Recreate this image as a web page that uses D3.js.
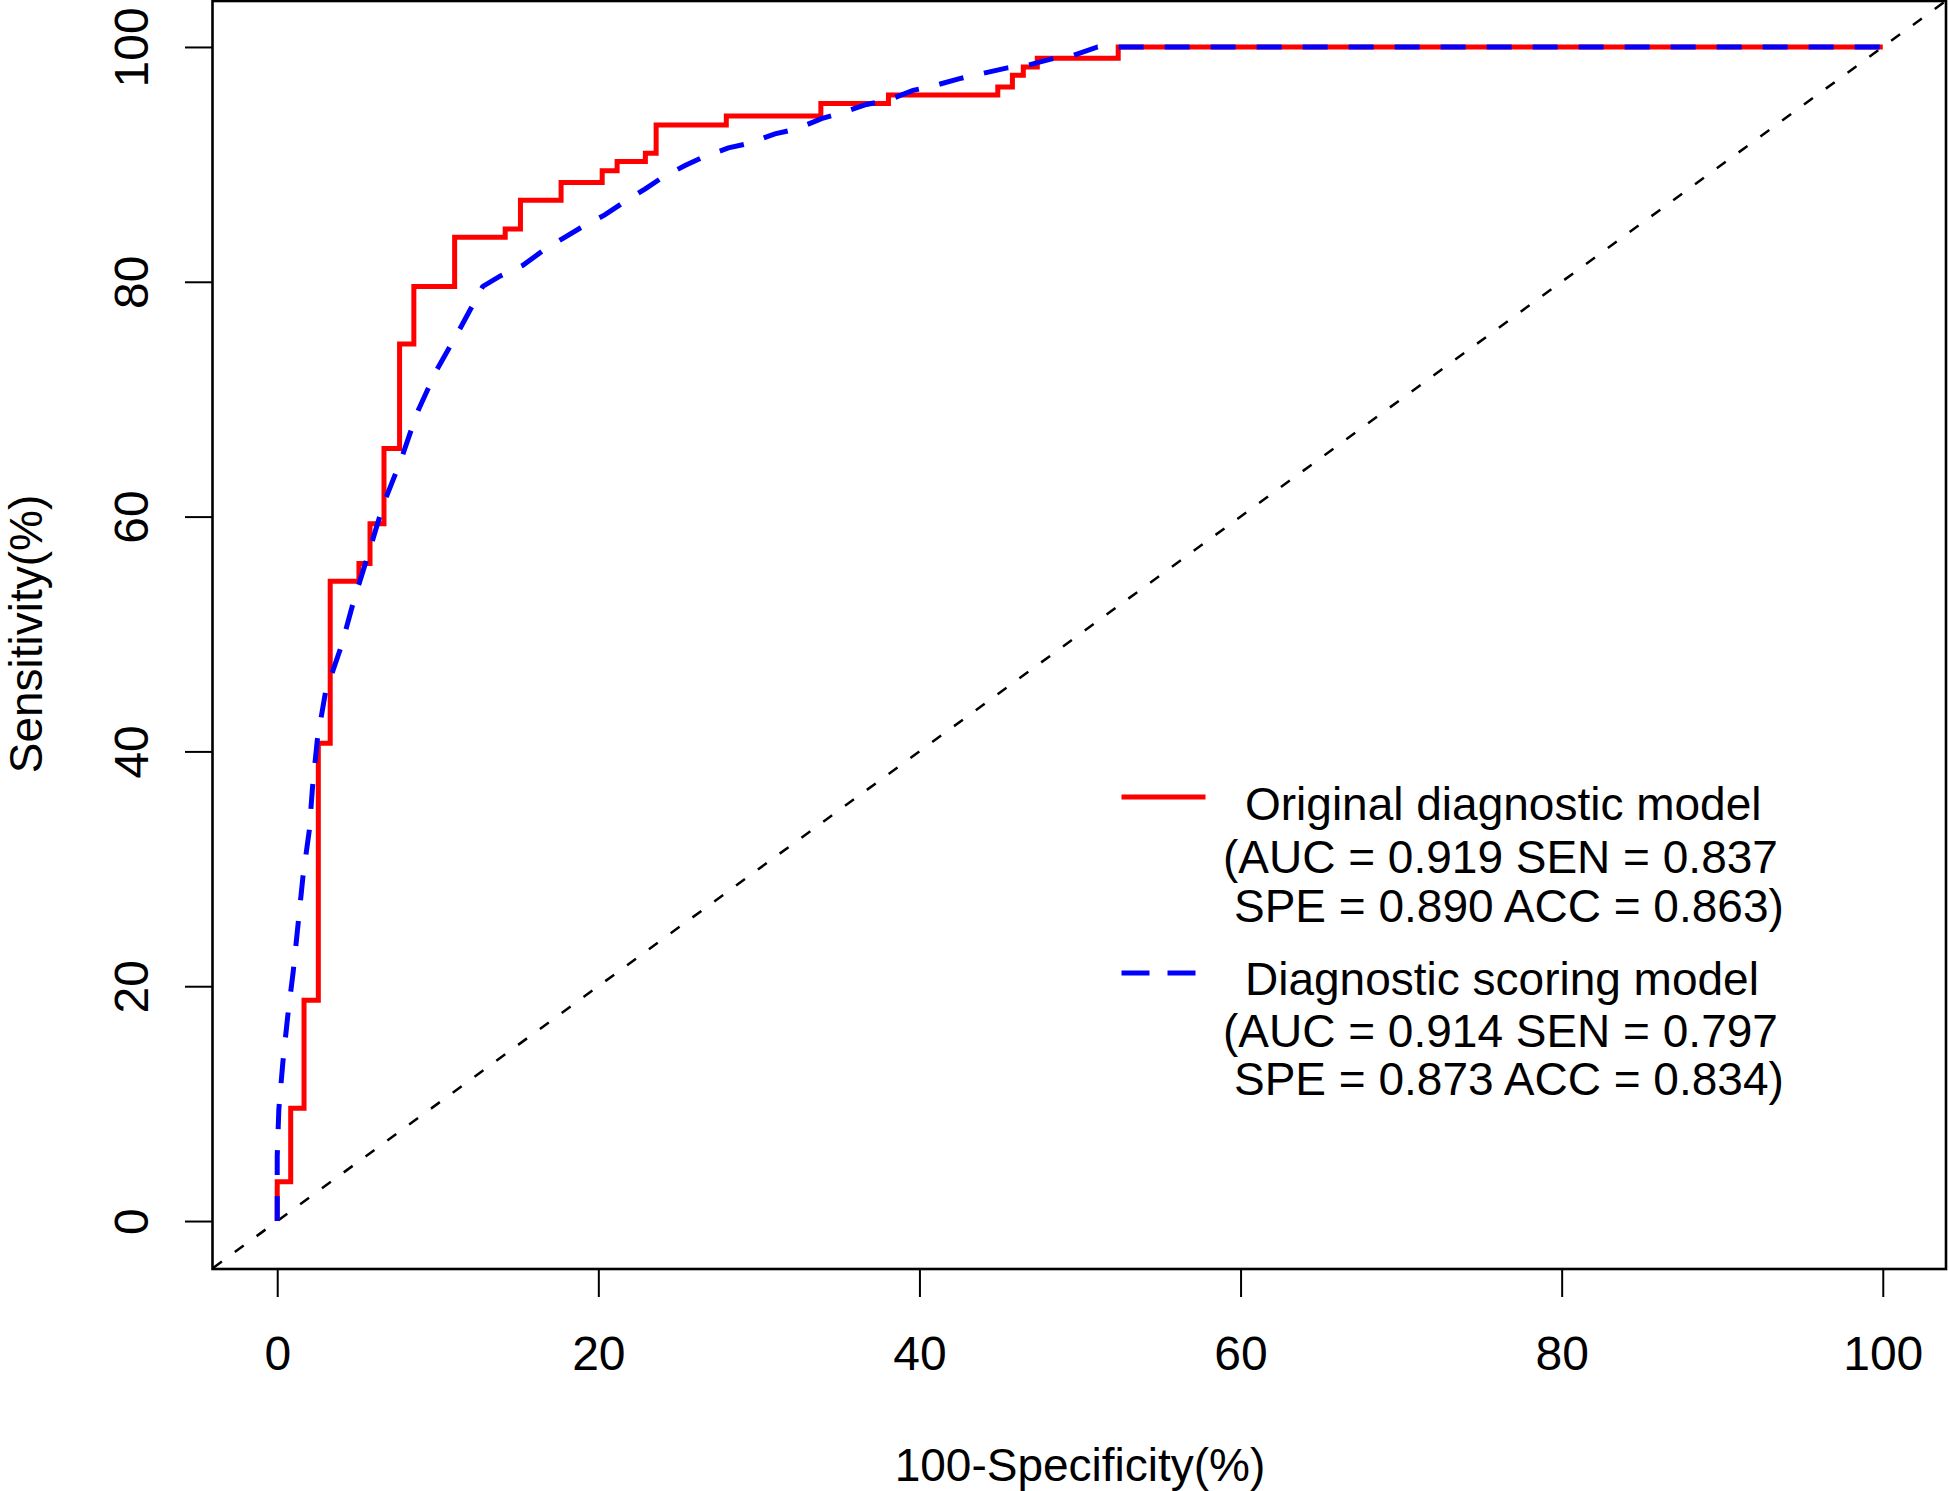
<!DOCTYPE html>
<html>
<head>
<meta charset="utf-8">
<script src="https://cdn.jsdelivr.net/npm/d3@7"></script>
<style>
  html, body { margin: 0; padding: 0; background: #fff; }
  svg { display: block; }
  text { font-family: "Liberation Sans", Arial, sans-serif; fill: #000; }
</style>
</head>
<body>
<svg id="chart" width="1949" height="1491"></svg>
<script>
// ---------- data ----------
const xTicks = [0, 20, 40, 60, 80, 100];
const yTicks = [0, 20, 40, 60, 80, 100];
const xTitle = "100-Specificity(%)";
const yTitle = "Sensitivity(%)";

// Original diagnostic model (step ROC corners: 100-specificity, sensitivity)
const origFpr = [0, 0.84, 1.67, 2.56, 3.3, 5.09, 5.78, 6.65, 7.62, 8.51, 11.05, 14.2, 15.15, 17.68, 20.24, 21.17, 22.93, 23.6, 27.97, 33.86, 38.07, 44.88, 45.79, 46.47, 47.34, 52.38, 100];
const origTpr = [0, 3.35, 9.6, 18.8, 40.7, 54.5, 56.0, 59.4, 65.8, 74.7, 79.6, 83.8, 84.5, 86.95, 88.45, 89.45, 90.24, 90.95, 93.36, 94.13, 95.18, 95.9, 96.6, 97.6, 98.3, 99.04, 100];

// Diagnostic scoring model
const scoreFpr = [0, 0, 0.1, 0.35, 0.65, 1.0, 1.3, 1.6, 2.0, 2.2, 2.5, 3.0, 4.0, 4.8, 5.7, 6.6, 7.7, 8.7, 9.9, 11.3, 12.8, 13.9, 15.3, 16.5, 17.8, 18.9, 20.4, 21.5, 22.9, 24.0, 25.4, 26.5, 28.1, 29.4, 31.0, 32.3, 33.9, 35.2, 36.7, 38.1, 39.6, 40.9, 42.5, 43.8, 45.4, 46.6, 48.3, 49.6, 51.1, 100];
const scoreTpr = [0, 5.5, 9.5, 13.5, 17.4, 21.3, 25.3, 29.3, 33.3, 37, 41, 45, 49, 53, 56.9, 61, 64.8, 68.8, 72.4, 75.8, 79.6, 80.5, 81.4, 82.6, 83.7, 84.6, 85.7, 86.7, 87.9, 88.9, 89.9, 90.6, 91.4, 91.8, 92.6, 93.0, 93.9, 94.4, 95.1, 95.5, 96.3, 96.7, 97.3, 97.7, 98.2, 98.4, 99.0, 99.3, 100, 100];

const legendOrig = ["Original diagnostic model", "(AUC = 0.919 SEN = 0.837", "SPE = 0.890 ACC = 0.863)"];
const legendScore = ["Diagnostic scoring model", "(AUC = 0.914 SEN = 0.797", "SPE = 0.873 ACC = 0.834)"];
const seriesColors = ["#ff0000", "#0000ff"];

// ---------- layout ----------
const svg = d3.select("#chart");
const x = d3.scaleLinear().domain([-4, 104]).range([213, 1947]);
const y = d3.scaleLinear().domain([-4, 104]).range([1268, 0]);

svg.append("defs").append("clipPath").attr("id", "plotclip")
  .append("rect").attr("x", 213).attr("y", 0).attr("width", 1734).attr("height", 1268);

const plot = svg.append("g").attr("clip-path", "url(#plotclip)");

// diagonal reference
plot.append("line")
  .attr("x1", x(-4)).attr("y1", y(-4)).attr("x2", x(104)).attr("y2", y(104))
  .attr("stroke", "#000").attr("stroke-width", 2.5)
  .attr("stroke-dasharray", "11,16");

const origData = origFpr.map((d, i) => [d, origTpr[i]]);
const scoreData = scoreFpr.map((d, i) => [d, scoreTpr[i]]);

const stepLine = d3.line().x(d => x(d[0])).y(d => y(d[1])).curve(d3.curveStepBefore);
const polyLine = d3.line().x(d => x(d[0])).y(d => y(d[1]));

plot.append("path").datum(origData)
  .attr("d", stepLine)
  .attr("fill", "none").attr("stroke", seriesColors[0]).attr("stroke-width", 5)
  .attr("stroke-linejoin", "miter");

plot.append("path").datum(scoreData)
  .attr("d", polyLine)
  .attr("fill", "none").attr("stroke", seriesColors[1]).attr("stroke-width", 5)
  .attr("stroke-dasharray", "25,21").attr("stroke-linecap", "butt");

// box
svg.append("rect")
  .attr("x", 212.5).attr("y", 1).attr("width", 1733.5).attr("height", 1268)
  .attr("fill", "none").attr("stroke", "#000").attr("stroke-width", 2.6);

// x axis
const xAxis = d3.axisBottom(x).tickValues(xTicks).tickSize(28).tickPadding(0).tickFormat(d3.format("d"));
const gx = svg.append("g").attr("transform", "translate(0,1269)").call(xAxis);
gx.select(".domain").remove();
gx.selectAll(".tick line").attr("stroke", "#000").attr("stroke-width", 2);
gx.selectAll(".tick text")
  .attr("y", 101).attr("dy", null)
  .style("font-size", "48px").style("font-family", "'Liberation Sans', Arial, sans-serif").attr("fill", "#000");

// y axis
const yAxis = d3.axisLeft(y).tickValues(yTicks).tickSize(27).tickPadding(0).tickFormat(d3.format("d"));
const gy = svg.append("g").attr("transform", "translate(212,0)").call(yAxis);
gy.select(".domain").remove();
gy.selectAll(".tick line").attr("stroke", "#000").attr("stroke-width", 2);
gy.selectAll(".tick text")
  .attr("x", null).attr("dy", null)
  .attr("text-anchor", "middle")
  .attr("transform", "translate(-64,0) rotate(-90)")
  .style("font-size", "48px").style("font-family", "'Liberation Sans', Arial, sans-serif").attr("fill", "#000");

// axis titles
svg.append("text")
  .attr("x", x(50)).attr("y", 1481)
  .attr("text-anchor", "middle").style("font-size", "46px")
  .text(xTitle);
svg.append("text")
  .attr("transform", `translate(42,${(0 + 1268) / 2}) rotate(-90)`)
  .attr("text-anchor", "middle").style("font-size", "46px")
  .text(yTitle);

// legend
const lg = svg.append("g");
lg.append("line").attr("x1", 1121.5).attr("x2", 1205.5).attr("y1", 797).attr("y2", 797)
  .attr("stroke", seriesColors[0]).attr("stroke-width", 5);
lg.append("line").attr("x1", 1121.5).attr("x2", 1205.5).attr("y1", 973).attr("y2", 973)
  .attr("stroke", seriesColors[1]).attr("stroke-width", 5)
  .attr("stroke-dasharray", "28,18");

const legendX = [1245, 1223, 1234];
const origBase = [820, 873, 922];
const scoreBase = [995, 1047, 1095];
legendOrig.forEach((t, i) => {
  lg.append("text").attr("x", legendX[i]).attr("y", origBase[i]).style("font-size", "46px").text(t);
});
legendScore.forEach((t, i) => {
  lg.append("text").attr("x", legendX[i]).attr("y", scoreBase[i]).style("font-size", "46px").text(t);
});
</script>
</body>
</html>
